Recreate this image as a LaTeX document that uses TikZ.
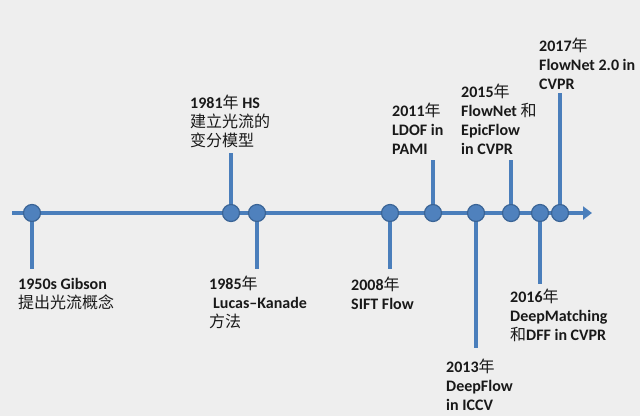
\documentclass[tikz,border=0pt]{standalone}
\usepackage{fontspec}
\setmainfont{Carlito}
\newfontfamily\cjk{Noto Sans CJK SC}
\usetikzlibrary{arrows.meta}
\definecolor{axisblue}{HTML}{4A7EBB}
\definecolor{dotfill}{HTML}{4F81BD}
\definecolor{dotedge}{HTML}{3A6496}
\definecolor{bg}{HTML}{EEEEEE}
\newcommand{\zh}[1]{{\cjk\mdseries #1}}
\tikzset{
  dot/.style={circle,fill=dotfill,draw=dotedge,line width=1.2pt,minimum size=17pt,inner sep=0pt},
  stem/.style={draw=axisblue,line width=3.8pt},
  axisline/.style={draw=axisblue,line width=3.8pt},
  lbl/.style={anchor=base west,inner sep=0pt,align=left,text=black!90,font=\fontsize{16}{19}\selectfont\bfseries}
}
\begin{document}
\begin{tikzpicture}[x=1pt,y=-1pt]
\fill[bg] (0,0) rectangle (640,416);
\useasboundingbox (0,0) rectangle (640,416);
% axis
\coordinate (a0) at (12,213);
\coordinate (a1) at (592,213);
\draw[axisline,-{Triangle[length=9pt,width=13pt]}] (a0) -- (a1);
% dots
\node[dot] (d1950) at (32,213) {};
\node[dot] (d1981) at (231,213) {};
\node[dot] (d1985) at (257,213) {};
\node[dot] (d2008) at (390,213) {};
\node[dot] (d2011) at (433,213) {};
\node[dot] (d2013) at (476,213) {};
\node[dot] (d2015) at (511,213) {};
\node[dot] (d2016) at (540,213) {};
\node[dot] (d2017) at (560,213) {};
% stem ends
\coordinate (e1950) at (32,269);
\coordinate (e1981) at (231,153);
\coordinate (e1985) at (257,269);
\coordinate (e2008) at (390,269);
\coordinate (e2011) at (433,160);
\coordinate (e2013) at (476,348);
\coordinate (e2015) at (511,160);
\coordinate (e2016) at (540,284);
\coordinate (e2017) at (560,93);
\foreach \n in {1950,1981,1985,2008,2011,2013,2015,2016,2017}{
  \draw[stem] (d\n) -- (e\n);
}
% labels (anchored at the baseline of their last line)
\node[lbl] (t1950) at (18,308) {1950s Gibson\\\zh{提出光流概念}};
\node[lbl] (t1985) at (209,327) {1985\zh{年}\\\hspace{4pt}Lucas–Kanade\\\zh{方法}};
\node[lbl] (t1981) at (190,146) {1981\zh{年} HS\\\zh{建立光流的}\\\zh{变分模型}};
\node[lbl] (t2008) at (351,309) {2008\zh{年}\\SIFT Flow};
\node[lbl] (t2011) at (392,154) {2011\zh{年}\\LDOF in\\PAMI};
\node[lbl] (t2015) at (461,154) {2015\zh{年}\\FlowNet \zh{和}\\EpicFlow\\in CVPR};
\node[lbl] (t2017) at (539,89) {2017\zh{年}\\FlowNet 2.0 in\\CVPR};
\node[lbl] (t2013) at (446,410) {2013\zh{年}\\DeepFlow\\in ICCV};
\node[lbl] (t2016) at (510,340) {2016\zh{年}\\DeepMatching\\\zh{和}DFF in CVPR};
\end{tikzpicture}
\end{document}
